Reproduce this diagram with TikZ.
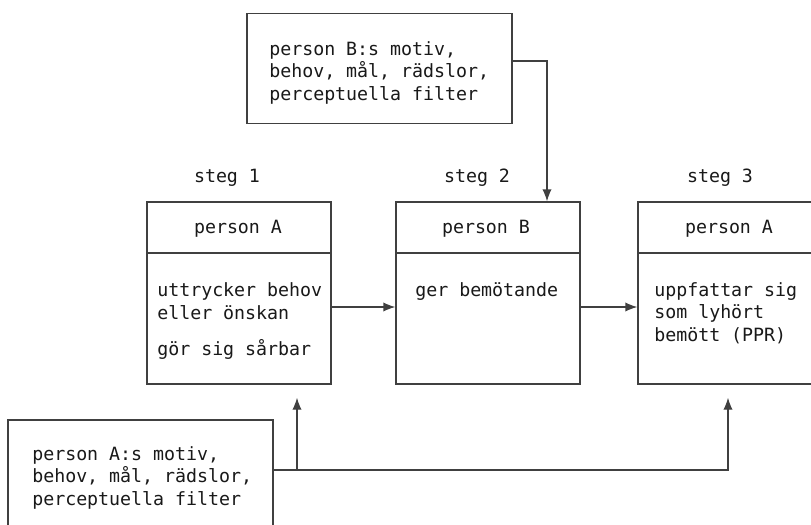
\documentclass[tikz,border=0pt]{standalone}
\usepackage{fontspec}
\setmonofont{DejaVu Sans Mono}
\usetikzlibrary{arrows.meta}

\begin{document}
\begin{tikzpicture}[x=0.75pt,y=-0.75pt,
  every node/.style={font=\ttfamily\fontsize{13.7pt}{16.8pt}\selectfont, text=black!90},
  frame/.style={draw=black!75, line width=1pt, rectangle, inner sep=0pt},
  header/.style={frame, minimum width=138pt, minimum height=38.25pt},
  body/.style={frame, minimum width=138pt, minimum height=98.25pt},
  note/.style={frame, minimum width=198.75pt, minimum height=82.5pt},
  % multi-line text is placed by the baseline of its last line
  txt/.style={anchor=base west, align=left, inner sep=0pt},
  centretxt/.style={anchor=base, inner sep=0pt},
  link/.style={draw=black!75, line width=1pt},
  arr/.style={link, -{Latex[length=9pt,width=7pt]}}]

\useasboundingbox (0,0) rectangle (811,525);
\clip (0,0) rectangle (811,525);
\fill[white] (0,0) rectangle (811,525);

% stage labels
\node[centretxt] (st1) at (227,182) {steg 1};
\node[centretxt] (st2) at (477,182) {steg 2};
\node[centretxt] (st3) at (720,182) {steg 3};

% stage boxes: header + body
\node[header] (h1) at (239,227.5) {};
\node[body]   (b1) at (239,318.5) {};
\node[header] (h2) at (488,227.5) {};
\node[body]   (b2) at (488,318.5) {};
\node[header] (h3) at (730,227.5) {};
\node[body]   (b3) at (730,318.5) {};

\node[centretxt] (h1t) at (238,233) {person A};
\node[centretxt] (h2t) at (486,233) {person B};
\node[centretxt] (h3t) at (729,233) {person A};

\node[txt] (b1t) at (157,355) {uttrycker behov\\eller önskan\\[10pt]gör sig sårbar};
\node[txt] (b2t) at (415,296) {ger bemötande};
\node[txt] (b3t) at (654,341) {uppfattar sig\\som lyhört\\bemött (PPR)};

% influence boxes
\node[note] (nB) at (379.5,68.5) {};
\node[txt] (nBt) at (269,100) {person B:s motiv,\\behov, mål, rädslor,\\perceptuella filter};
\node[note] (nA) at (140.5,475) {};
\node[txt] (nAt) at (32,505) {person A:s motiv,\\behov, mål, rädslor,\\perceptuella filter};

% routing points
\coordinate (flow) at (0,307);
\coordinate (feedB) at (547,61);
\coordinate (feedA) at (0,470);
\coordinate (tapA) at (297,470);
\coordinate (tapC) at (728,470);

% flow between stages
\draw[arr] (b1.east |- flow) -- (b2.west |- flow);
\draw[arr] (b2.east |- flow) -- (b3.west |- flow);

% person B influence
\draw[arr] (nB.east |- feedB) -| (h2.north -| feedB);

% person A influence
\draw[arr, shorten >=9.75pt] (nA.east |- feedA) -| (b3.south -| tapC);
\draw[arr, shorten >=9.75pt] (tapA) -- (b1.south -| tapA);

\end{tikzpicture}
\end{document}
